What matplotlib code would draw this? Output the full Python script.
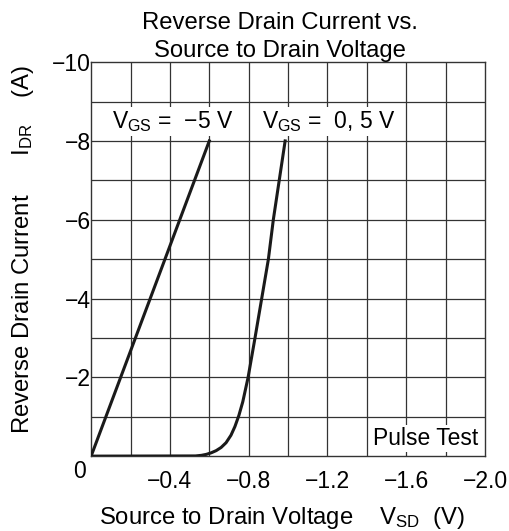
import matplotlib
matplotlib.use('Agg')
import matplotlib.pyplot as plt

plt.rcParams['font.family'] = ['Liberation Sans', 'DejaVu Sans']
plt.rcParams['mathtext.fontset'] = 'custom'
plt.rcParams['mathtext.rm'] = 'Liberation Sans'
plt.rcParams['mathtext.it'] = 'Liberation Sans'

# V_GS = -5 V (linear)
vsd_m5 = [0.0, -0.6]
idr_m5 = [0.0, -8.0]

# V_GS = 0, 5 V (diode knee)
vsd_0 = [0.0, -0.53, -0.56, -0.585, -0.61, -0.635, -0.66, -0.685, -0.71,
         -0.73, -0.75, -0.77, -0.797, -0.832, -0.866, -0.9, -0.925, -0.955,
         -0.985]
idr_0 = [0.0, -0.005, -0.02, -0.045, -0.085, -0.14, -0.22, -0.34, -0.53,
         -0.75, -1.03, -1.38, -2.0, -3.0, -4.0, -5.0, -6.0, -7.0, -8.0]

x_ticks = [-0.4, -0.8, -1.2, -1.6, -2.0]
y_ticks = [-2, -4, -6, -8, -10]

fs = 16.5
fl = 17.2

fig = plt.figure(figsize=(5.09, 5.31), dpi=100)
ax = fig.add_axes([0.179, 0.141, 0.774, 0.742])

# grid
for i in range(1, 10):
    ax.axvline(-0.2 * i, color='#333333', lw=0.9, zorder=1)
    ax.axhline(-1.0 * i, color='#333333', lw=0.9, zorder=1)

ax.plot(vsd_m5, idr_m5, color='#1a1a1a', lw=2.2, zorder=3)
ax.plot(vsd_0, idr_0, color='#1a1a1a', lw=2.2, zorder=3)

ax.set_xlim(0, -2.0)
ax.set_ylim(0, -10)
ax.set_xticks(x_ticks)
ax.set_xticklabels(['\u2212' + f'{abs(v):.1f}' for v in x_ticks])
ax.set_yticks(y_ticks)
ax.set_yticklabels(['\u2212' + f'{abs(v)}' for v in y_ticks])
ax.tick_params(length=0, labelsize=fs, pad=0)
ax.tick_params(axis='x', pad=10)
for s in ax.spines.values():
    s.set_linewidth(1.0)
    s.set_color('#333333')

ax.text(-0.03, -0.04, '0', transform=ax.transAxes, fontsize=fs,
        ha='center', va='center')

box = dict(facecolor='white', edgecolor='none', pad=1.5)
ax.text(-0.414, -8.5, r'$\mathregular{V_{GS}}$ =  ' + '\u2212' + '5 V',
        fontsize=fs, ha='center', va='center', bbox=box, zorder=2)
ax.text(-1.205, -8.5, r'$\mathregular{V_{GS}}$ =  0, 5 V',
        fontsize=fs, ha='center', va='center', bbox=box, zorder=2)
ax.text(-1.7, -0.45, 'Pulse Test', fontsize=fs, ha='center', va='center',
        bbox=box, zorder=2)

ax.set_title('Reverse Drain Current vs.\nSource to Drain Voltage',
             fontsize=fl, pad=4, linespacing=1.3, x=0.48)
ax.set_xlabel(r'Source to Drain Voltage    $\mathregular{V_{SD}}$  (V)',
              fontsize=fl)
ax.xaxis.set_label_coords(0.483, -0.125)
ax.set_ylabel(r'Reverse Drain Current      $\mathregular{I_{DR}}$    (A)',
              fontsize=fl)
ax.yaxis.set_label_coords(-0.14, 0.525)

fig.savefig('out.png', dpi=100, facecolor='white')
